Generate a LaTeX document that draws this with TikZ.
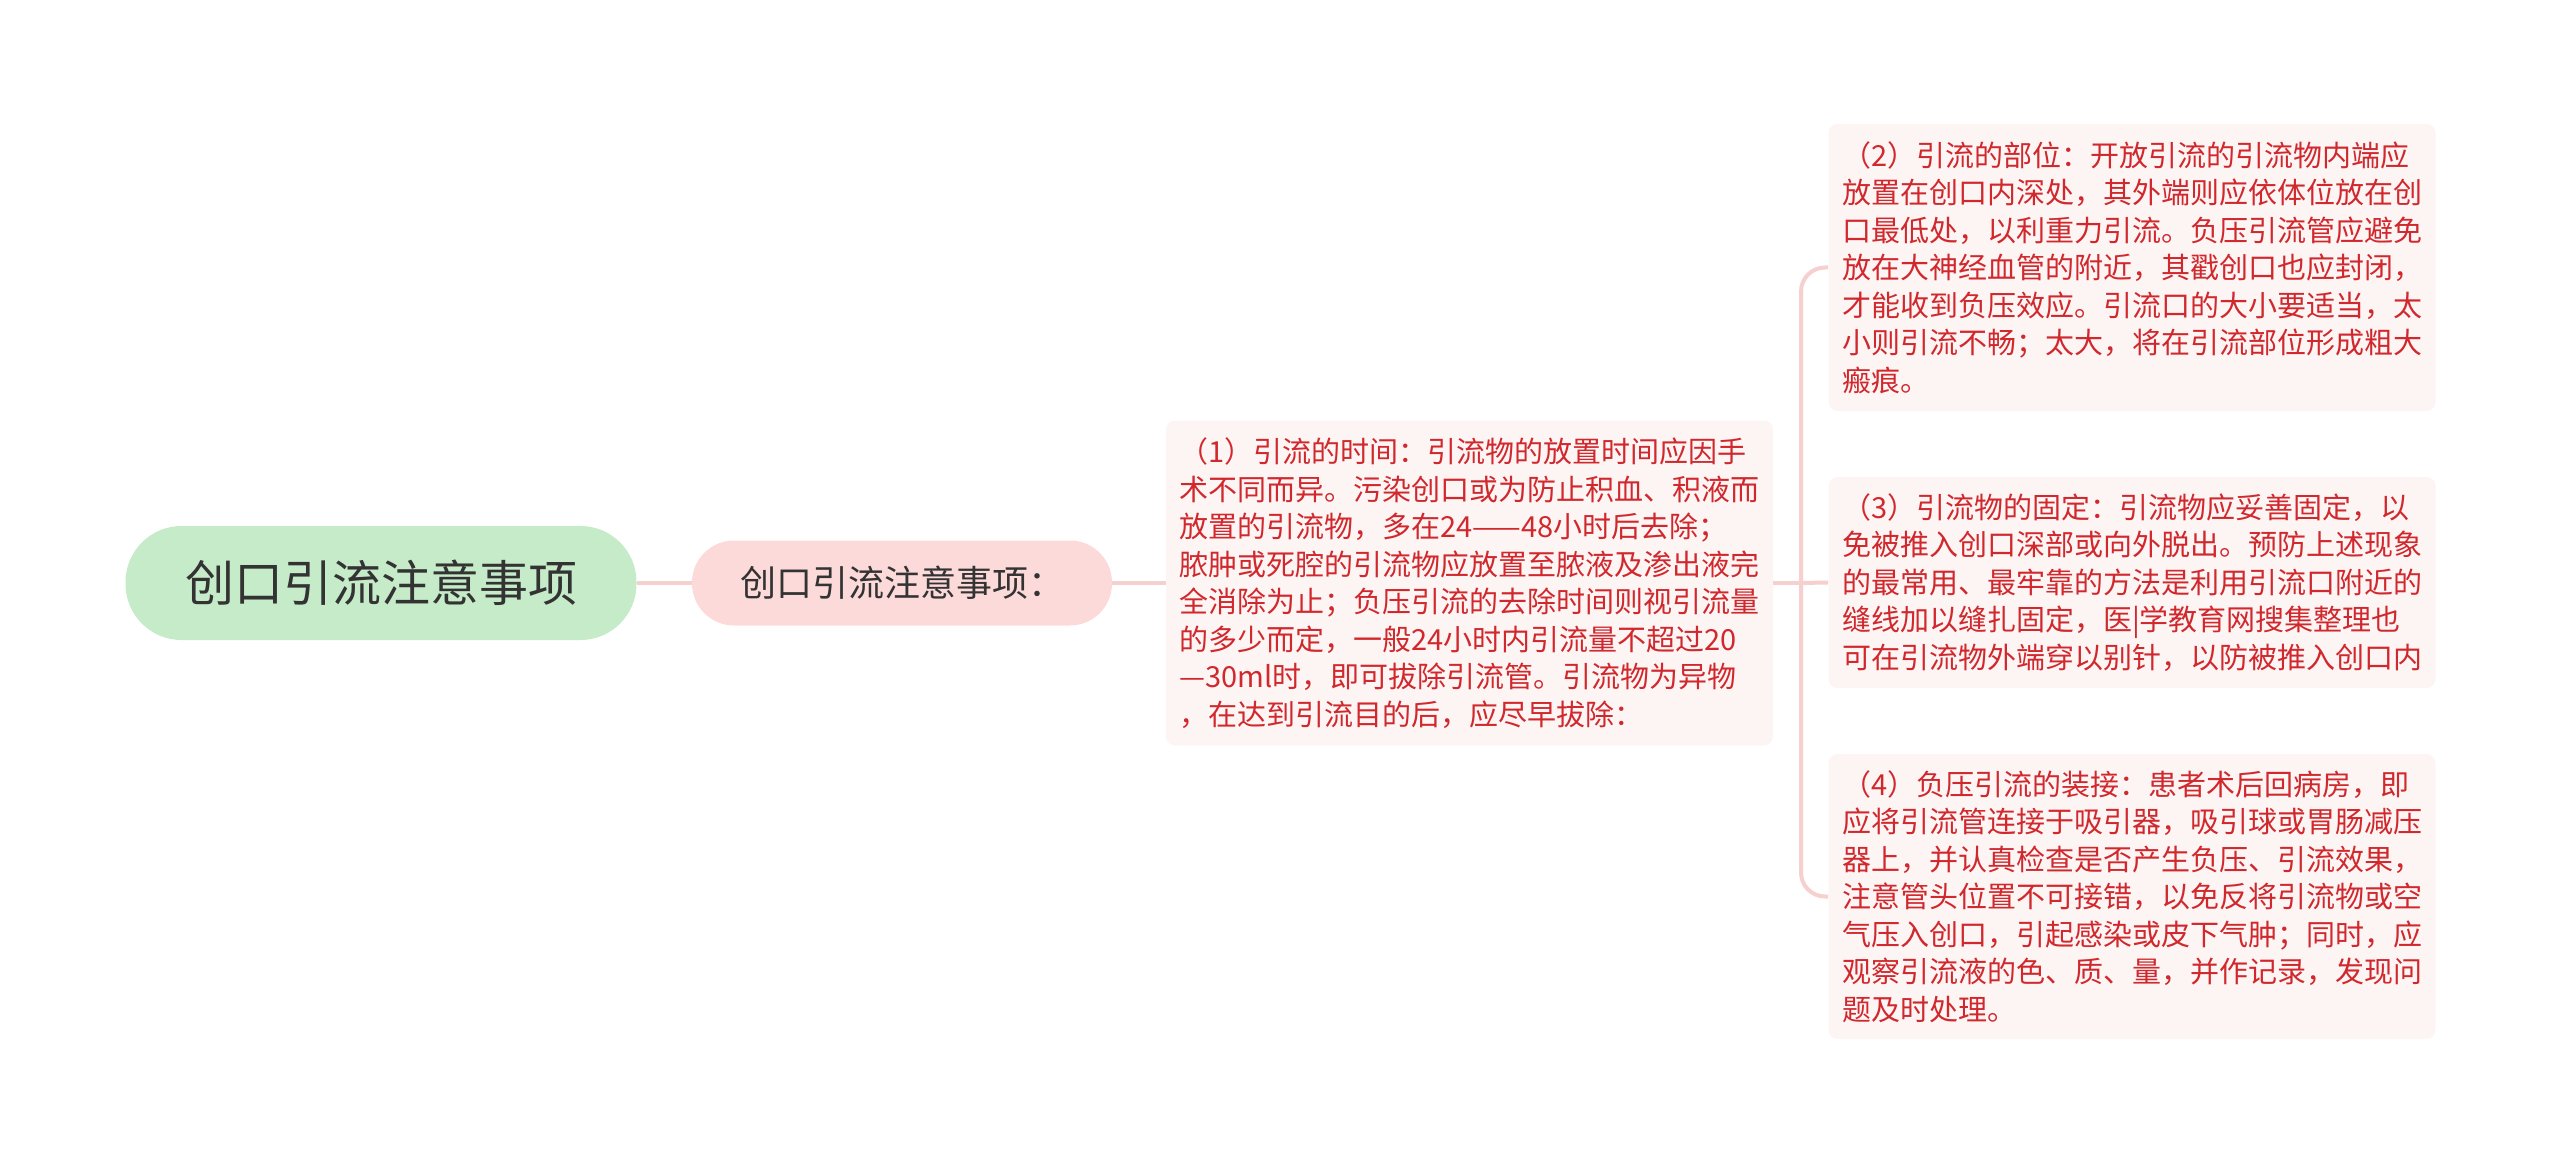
\documentclass[tikz,border=0pt]{standalone}
\usepackage{fontspec}
\setmainfont{Noto Sans CJK SC}
\definecolor{rootfill}{HTML}{C6EBC9}
\definecolor{lonefill}{HTML}{FDDADA}
\definecolor{leaffill}{HTML}{FDF4F4}
\definecolor{linkpink}{HTML}{F6CFCF}
\definecolor{leaftext}{HTML}{D0282D}
\definecolor{darktext}{HTML}{333333}
\tikzset{
  rootbox/.style={fill=rootfill, rounded corners=28pt, minimum width=255.5pt, minimum height=57pt, inner sep=0pt,
    text=darktext, font=\fontsize{24.5pt}{28pt}\selectfont},
  lonebox/.style={fill=lonefill, rounded corners=21pt, minimum width=210pt, minimum height=42.5pt, inner sep=0pt,
    text=darktext, font=\fontsize{18pt}{22pt}\selectfont},
  leafbox/.style={fill=leaffill, rounded corners=4.5pt, minimum width=303.5pt, inner sep=0pt,
    text width=290pt, align=left, text=leaftext, font=\fontsize{14.5pt}{18.75pt}\selectfont},
  link/.style={draw=linkpink, line width=2pt},
}
\begin{document}
\begin{tikzpicture}[x=0.5pt,y=-0.5pt]
\useasboundingbox (0,0) rectangle (2560,1166);
\node[rootbox] (root) at (381,583) {创口引流注意事项};
\node[lonebox] (lone) at (902,583) {创口引流注意事项：};
\node[leafbox, minimum height=162.5pt] (b1) at (1469.5,583) {（1）引流的时间：引流物的放置时间应因手\\
术不同而异。污染创口或为防止积血、积液而\\
放置的引流物，多在24——48小时后去除；\\
脓肿或死腔的引流物应放置至脓液及渗出液完\\
全消除为止；负压引流的去除时间则视引流量\\
的多少而定，一般24小时内引流量不超过20\\
—30ml时，即可拔除引流管。引流物为异物\\
，在达到引流目的后，应尽早拔除：};
\node[leafbox, minimum height=143.5pt] (b2) at (2132,267.5) {（2）引流的部位：开放引流的引流物内端应\\
放置在创口内深处，其外端则应依体位放在创\\
口最低处，以利重力引流。负压引流管应避免\\
放在大神经血管的附近，其戳创口也应封闭，\\
才能收到负压效应。引流口的大小要适当，太\\
小则引流不畅；太大，将在引流部位形成粗大\\
瘢痕。};
\node[leafbox, minimum height=105.5pt] (b3) at (2132,582.5) {（3）引流物的固定：引流物应妥善固定，以\\
免被推入创口深部或向外脱出。预防上述现象\\
的最常用、最牢靠的方法是利用引流口附近的\\
缝线加以缝扎固定，医|学教育网搜集整理也\\
可在引流物外端穿以别针，以防被推入创口内};
\node[leafbox, minimum height=142.5pt] (b4) at (2132,896.5) {（4）负压引流的装接：患者术后回病房，即\\
应将引流管连接于吸引器，吸引球或胃肠减压\\
器上，并认真检查是否产生负压、引流效果，\\
注意管头位置不可接错，以免反将引流物或空\\
气压入创口，引起感染或皮下气肿；同时，应\\
观察引流液的色、质、量，并作记录，发现问\\
题及时处理。};
\coordinate (fork) at (1801,583);
\draw[link] (root.east) -- (lone.west);
\draw[link] (lone.east) -- (b1.west);
\draw[link] (b1.east) -- (fork);
\draw[link, rounded corners=12pt] (fork) |- (b2.west);
\draw[link] (fork) -- (b3.west);
\draw[link, rounded corners=12pt] (fork) |- (b4.west);
\end{tikzpicture}
\end{document}
